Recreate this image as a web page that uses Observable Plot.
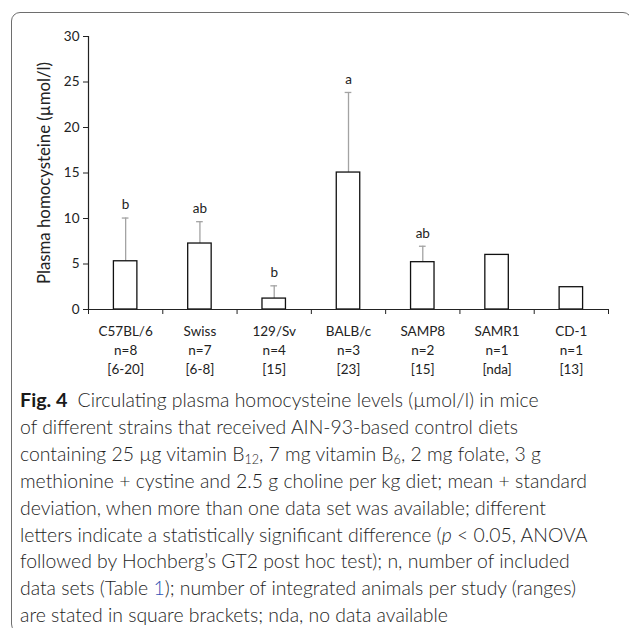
<!DOCTYPE html>
<html>
<head>
<meta charset="utf-8">
<script src="https://cdn.jsdelivr.net/npm/d3@7"></script>
<script src="https://cdn.jsdelivr.net/npm/@observablehq/plot@0.6"></script>
<style>
  html, body { margin: 0; padding: 0; background: #fff; }
  #page { position: relative; width: 629px; height: 628px; overflow: hidden; background: #fff; }
  #frame { position: absolute; left: 11px; top: 12px; width: 621px; height: 621px; border: 1px solid #6e6e6e; border-radius: 9px; box-sizing: border-box; }
  #chart { position: absolute; left: 0; top: 0; }
  #caption { position: absolute; left: 20px; top: 386px; font-family: Lato, "Open Sans", sans-serif; font-size: 19.4px; font-weight: 300; line-height: 26.9px; color: #1e1e1e; }
  #caption div { white-space: nowrap; }
  #caption b { font-weight: 700; font-size: 1.02em; color: #1a1a1a; margin-right: 10px; }
  #caption sub { font-size: 0.65em; line-height: 0; vertical-align: -0.25em; }
  #caption .lnk { color: #2f55b5; }
</style>
</head>
<body>
<div id="page">
  <div id="frame"></div>
  <div id="chart"></div>
  <div id="caption">
    <div><b>Fig. 4</b>Circulating plasma homocysteine levels (µmol/l) in mice</div>
    <div>of different strains that received AIN-93-based control diets</div>
    <div>containing 25 µg vitamin B<sub>12</sub>, 7 mg vitamin B<sub>6</sub>, 2 mg folate, 3 g</div>
    <div>methionine + cystine and 2.5 g choline per kg diet; mean + standard</div>
    <div>deviation, when more than one data set was available; different</div>
    <div>letters indicate a statistically significant difference (<i>p</i> &lt; 0.05, ANOVA</div>
    <div>followed by Hochberg’s GT2 post hoc test); n, number of included</div>
    <div>data sets (Table <span class="lnk">1</span>); number of integrated animals per study (ranges)</div>
    <div>are stated in square brackets; nda, no data available</div>
  </div>
</div>
<script>
const strains = ["C57BL/6", "Swiss", "129/Sv", "BALB/c", "SAMP8", "SAMR1", "CD-1"];
const nLabels = ["n=8", "n=7", "n=4", "n=3", "n=2", "n=1", "n=1"];
const ranges = ["[6-20]", "[6-8]", "[15]", "[23]", "[15]", "[nda]", "[13]"];
const means = [5.3, 7.25, 1.2, 15.05, 5.2, 6.0, 2.45];
const sds = [4.75, 2.4, 1.4, 8.8, 1.75, null, null];
const letters = ["b", "ab", "b", "a", "ab", "", ""];
const yTicks = [0, 5, 10, 15, 20, 25, 30];
const yLabel = "Plasma homocysteine (µmol/l)";

const data = strains.map((s, i) => ({
  i, strain: s, mean: means[i], sd: sds[i], letter: letters[i], n: nLabels[i], range: ranges[i]
}));
const withSd = data.filter(d => d.sd != null);
const withLetter = data.filter(d => d.letter);

const barW = 0.316;   // bar width as a fraction of a category slot
const capW = 0.045;   // half-width of an error-bar cap

const chart = Plot.plot({
  width: 629,
  height: 380,
  marginLeft: 88,
  marginRight: 21,
  marginTop: 36,
  marginBottom: 71,
  x: { domain: [0, strains.length], axis: null },
  y: { domain: [0, 30], axis: null },
  style: { fontFamily: "Lato, 'Open Sans', sans-serif", fontSize: "13.5px", color: "#222", background: "transparent", overflow: "visible" },
  marks: [
    Plot.axisY({ ticks: yTicks, tickSize: 5, tickPadding: 4, fontSize: 13.5, label: null, stroke: "#222" }),
    Plot.axisX({ ticks: d3.range(strains.length + 1), tickSize: 5, tickFormat: () => "", label: null, stroke: "#222" }),
    Plot.axisX({
      ticks: data.map(d => d.i + 0.5), tickSize: 0, tickPadding: 13, label: null,
      tickFormat: v => { const d = data[Math.floor(v)]; return `${d.strain}\n${d.n}\n${d.range}`; },
      lineHeight: 1.42, fontSize: 13.5
    }),
    Plot.ruleX(withSd, { x: d => d.i + 0.5, y1: "mean", y2: d => d.mean + d.sd, stroke: "#a3a3a3", strokeWidth: 1.3 }),
    Plot.ruleY(withSd, { y: d => d.mean + d.sd, x1: d => d.i + 0.5 - capW, x2: d => d.i + 0.5 + capW, stroke: "#a3a3a3", strokeWidth: 1.3 }),
    Plot.rectY(data, { x1: d => d.i + 0.5 - barW / 2, x2: d => d.i + 0.5 + barW / 2, y1: 0, y2: "mean", fill: "white", stroke: "#111", strokeWidth: 1.3 }),
    Plot.ruleX([0], { stroke: "#222", strokeWidth: 1.2 }),
    Plot.ruleY([0], { stroke: "#222", strokeWidth: 1.2 }),
    Plot.text(withLetter, { x: d => d.i + 0.5, y: d => d.mean + d.sd, text: "letter", dy: -13, fontSize: 13.5, fill: "#222" }),
    Plot.text([yLabel], { frameAnchor: "left", textAnchor: "middle", dx: -44, rotate: -90, fontSize: 16.8, fill: "#222" })
  ]
});
document.getElementById("chart").appendChild(chart);
</script>
</body>
</html>
